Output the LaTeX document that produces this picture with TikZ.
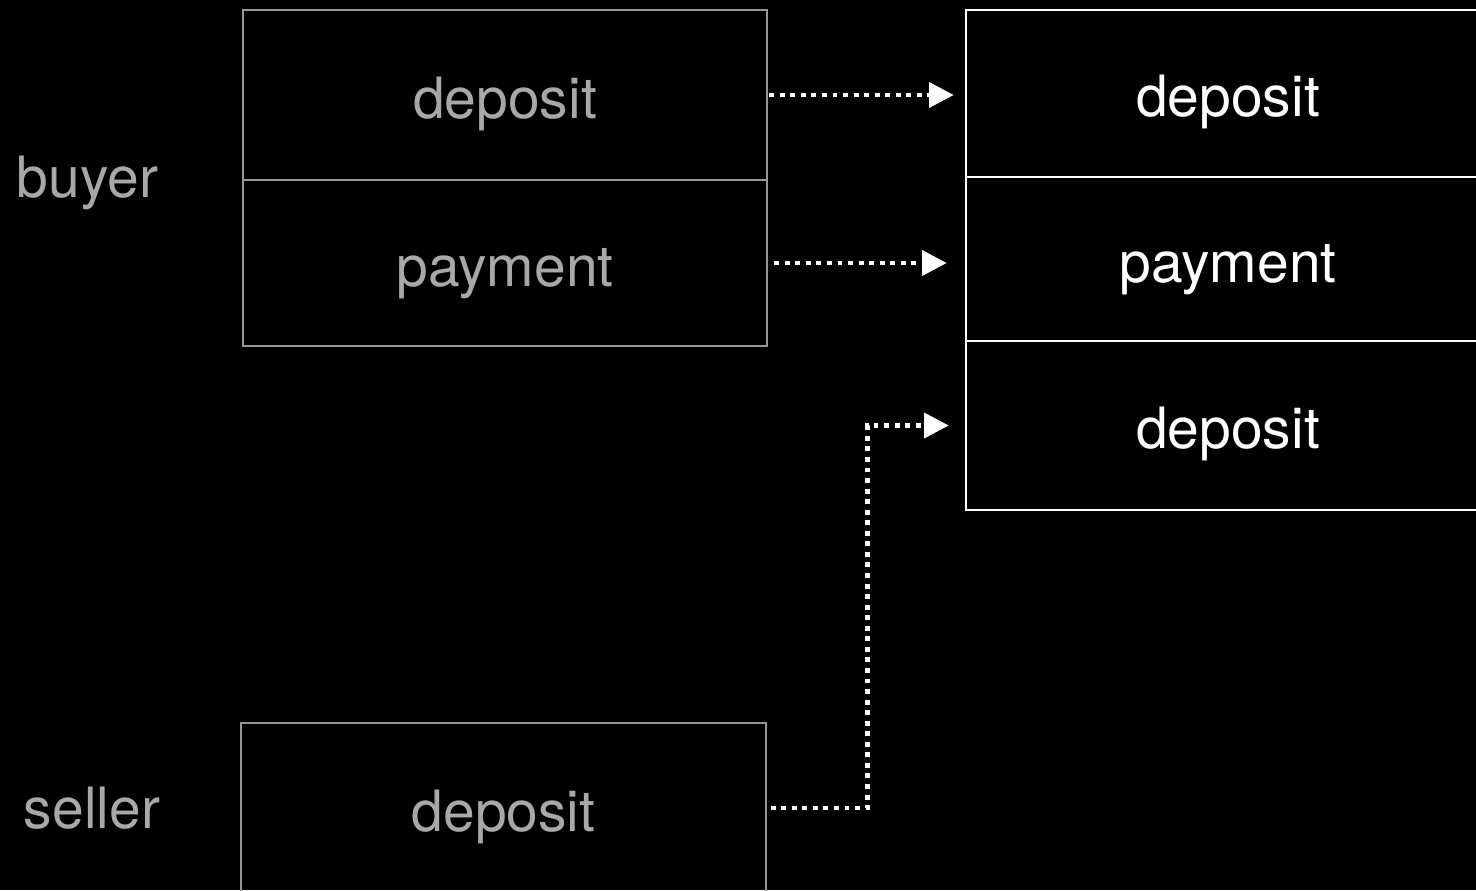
\documentclass[tikz,border=0pt]{standalone}
\usepackage{fontspec}
\setmainfont{TeX Gyre Heros}
\usetikzlibrary{arrows.meta}
\definecolor{boxgray}{RGB}{150,150,150}
\definecolor{textgray}{RGB}{168,168,168}

\begin{document}
\begin{tikzpicture}[x=0.01cm,y=-0.01cm,
  cell/.style={draw,line width=0.6pt,minimum width=5.24cm,inner sep=0pt,
    text height=0.5cm,text depth=0.04cm,font=\fontsize{16.2}{19}\selectfont},
  oldcell/.style={cell,draw=boxgray,text=textgray},
  newcell/.style={cell,draw=white,text=white},
  party/.style={text=textgray,anchor=base,font=\fontsize{16.2}{19}\selectfont},
  flow/.style={white,line width=1.3pt,dash pattern=on 1.4pt off 1.6pt,
    -{Triangle[length=7pt,width=7pt]}}]
  \fill[black] (0,0) rectangle (1476,890);
  \useasboundingbox (0,0) rectangle (1476,890);

  % buyer and seller
  \node[party] (buyer) at (87.5,197) {buyer};
  \node[party] (seller) at (92,828) {seller};

  \node[oldcell,minimum height=1.70cm] (bdep) at (505,95) {deposit};
  \node[oldcell,minimum height=1.66cm] (bpay) at (505,263) {payment};
  \node[oldcell,minimum height=1.70cm] (sdep) at (503.5,808) {deposit};

  % joint
  \node[newcell,minimum height=1.67cm] (jdep) at (1228,93.5) {deposit};
  \node[newcell,minimum height=1.64cm] (jpay) at (1228,259) {payment};
  \node[newcell,minimum height=1.69cm] (jsdep) at (1228,425.5) {deposit};

  \draw[flow,shorten <=0.01cm,shorten >=0.11cm] (bdep.east) -- (bdep.east -| jdep.west);
  \draw[flow,shorten <=0.06cm,shorten >=0.18cm] (bpay.east) -- (bpay.east -| jpay.west);
  \draw[flow,shorten <=0.04cm,shorten >=0.16cm] (sdep.east) -- ++(101,0) |- (jsdep.west);
\end{tikzpicture}
\end{document}
